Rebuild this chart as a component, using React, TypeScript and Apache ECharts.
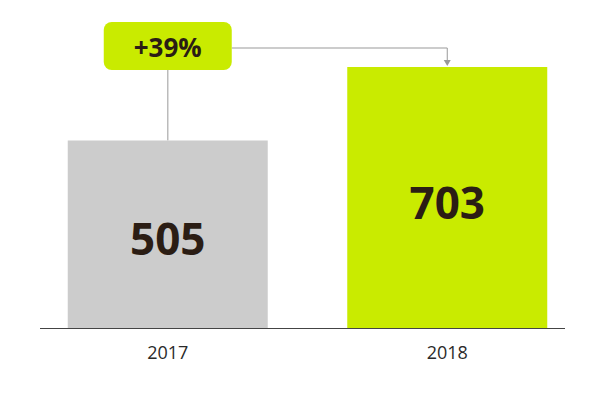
import React, { useEffect, useRef } from "react";
import * as echarts from "echarts";

const categories = ["2017", "2018"];
const values = [505, 703];
const barColors = ["#cccccc", "#c9eb00"];
const growthLabel = "+39%";

export default function App() {
  const ref = useRef<HTMLDivElement>(null);
  useEffect(() => {
    const el = ref.current!;
    const chart = echarts.init(el, null, { renderer: "svg" });
    const font = "'Open Sans', 'DejaVu Sans', sans-serif";
    chart.setOption({
      animation: false,
      backgroundColor: "#ffffff",
      grid: { left: 28, right: 6, top: 67, bottom: 67, containLabel: false },
      xAxis: {
        type: "category",
        data: categories,
        axisLine: { show: false },
        axisTick: { show: false },
        axisLabel: { color: "#2a2a2a", fontSize: 18, fontFamily: font, margin: 15 },
      },
      yAxis: { type: "value", min: 0, max: 703, show: false, splitLine: { show: false } },
      series: [
        {
          type: "bar",
          barWidth: 200,
          data: values.map((v, i) => ({ value: v, itemStyle: { color: barColors[i] } })),
          label: {
            show: true,
            position: "inside",
            offset: [0, 4],
            color: "#2b1d14",
            fontSize: 44,
            fontWeight: "bold",
            fontFamily: font,
          },
        },
      ],
    });

    const p0 = chart.convertToPixel({ seriesIndex: 0 }, [0, values[0]]) as number[];
    const p1 = chart.convertToPixel({ seriesIndex: 0 }, [1, values[1]]) as number[];
    const base = chart.convertToPixel({ seriesIndex: 0 }, [0, 0]) as number[];
    const boxW = 128, boxH = 48, boxTop = 22;
    const boxL = p0[0] - boxW / 2;
    const lineY = boxTop + 26;
    chart.setOption({
      graphic: [
        { type: "line", shape: { x1: 40, y1: base[1] + 0.5, x2: 565, y2: base[1] + 0.5 }, style: { stroke: "#444", lineWidth: 1 } },
        { type: "line", shape: { x1: p0[0], y1: boxTop + boxH, x2: p0[0], y2: p0[1] }, style: { stroke: "#bbbbbb", lineWidth: 1.5 } },
        { type: "polyline", shape: { points: [[boxL + boxW, lineY], [p1[0], lineY], [p1[0], p1[1] - 5]] }, style: { stroke: "#999999", lineWidth: 1, fill: null } },
        { type: "polygon", shape: { points: [[p1[0] - 3.5, p1[1] - 7], [p1[0] + 3.5, p1[1] - 7], [p1[0], p1[1] - 1]] }, style: { fill: "#999999" } },
        { type: "rect", shape: { x: boxL, y: boxTop, width: boxW, height: boxH, r: 8 }, style: { fill: barColors[1] } },
        {
          type: "text",
          x: p0[0],
          y: boxTop + boxH / 2 + 1,
          style: { text: growthLabel, fill: "#2b1d14", fontSize: 26, fontWeight: "bold", fontFamily: font, align: "center", verticalAlign: "middle" },
        },
      ],
    });
    return () => chart.dispose();
  }, []);
  return <div ref={ref} style={{ position: "fixed", left: 0, top: 0, width: 593, height: 395 }} />;
}
